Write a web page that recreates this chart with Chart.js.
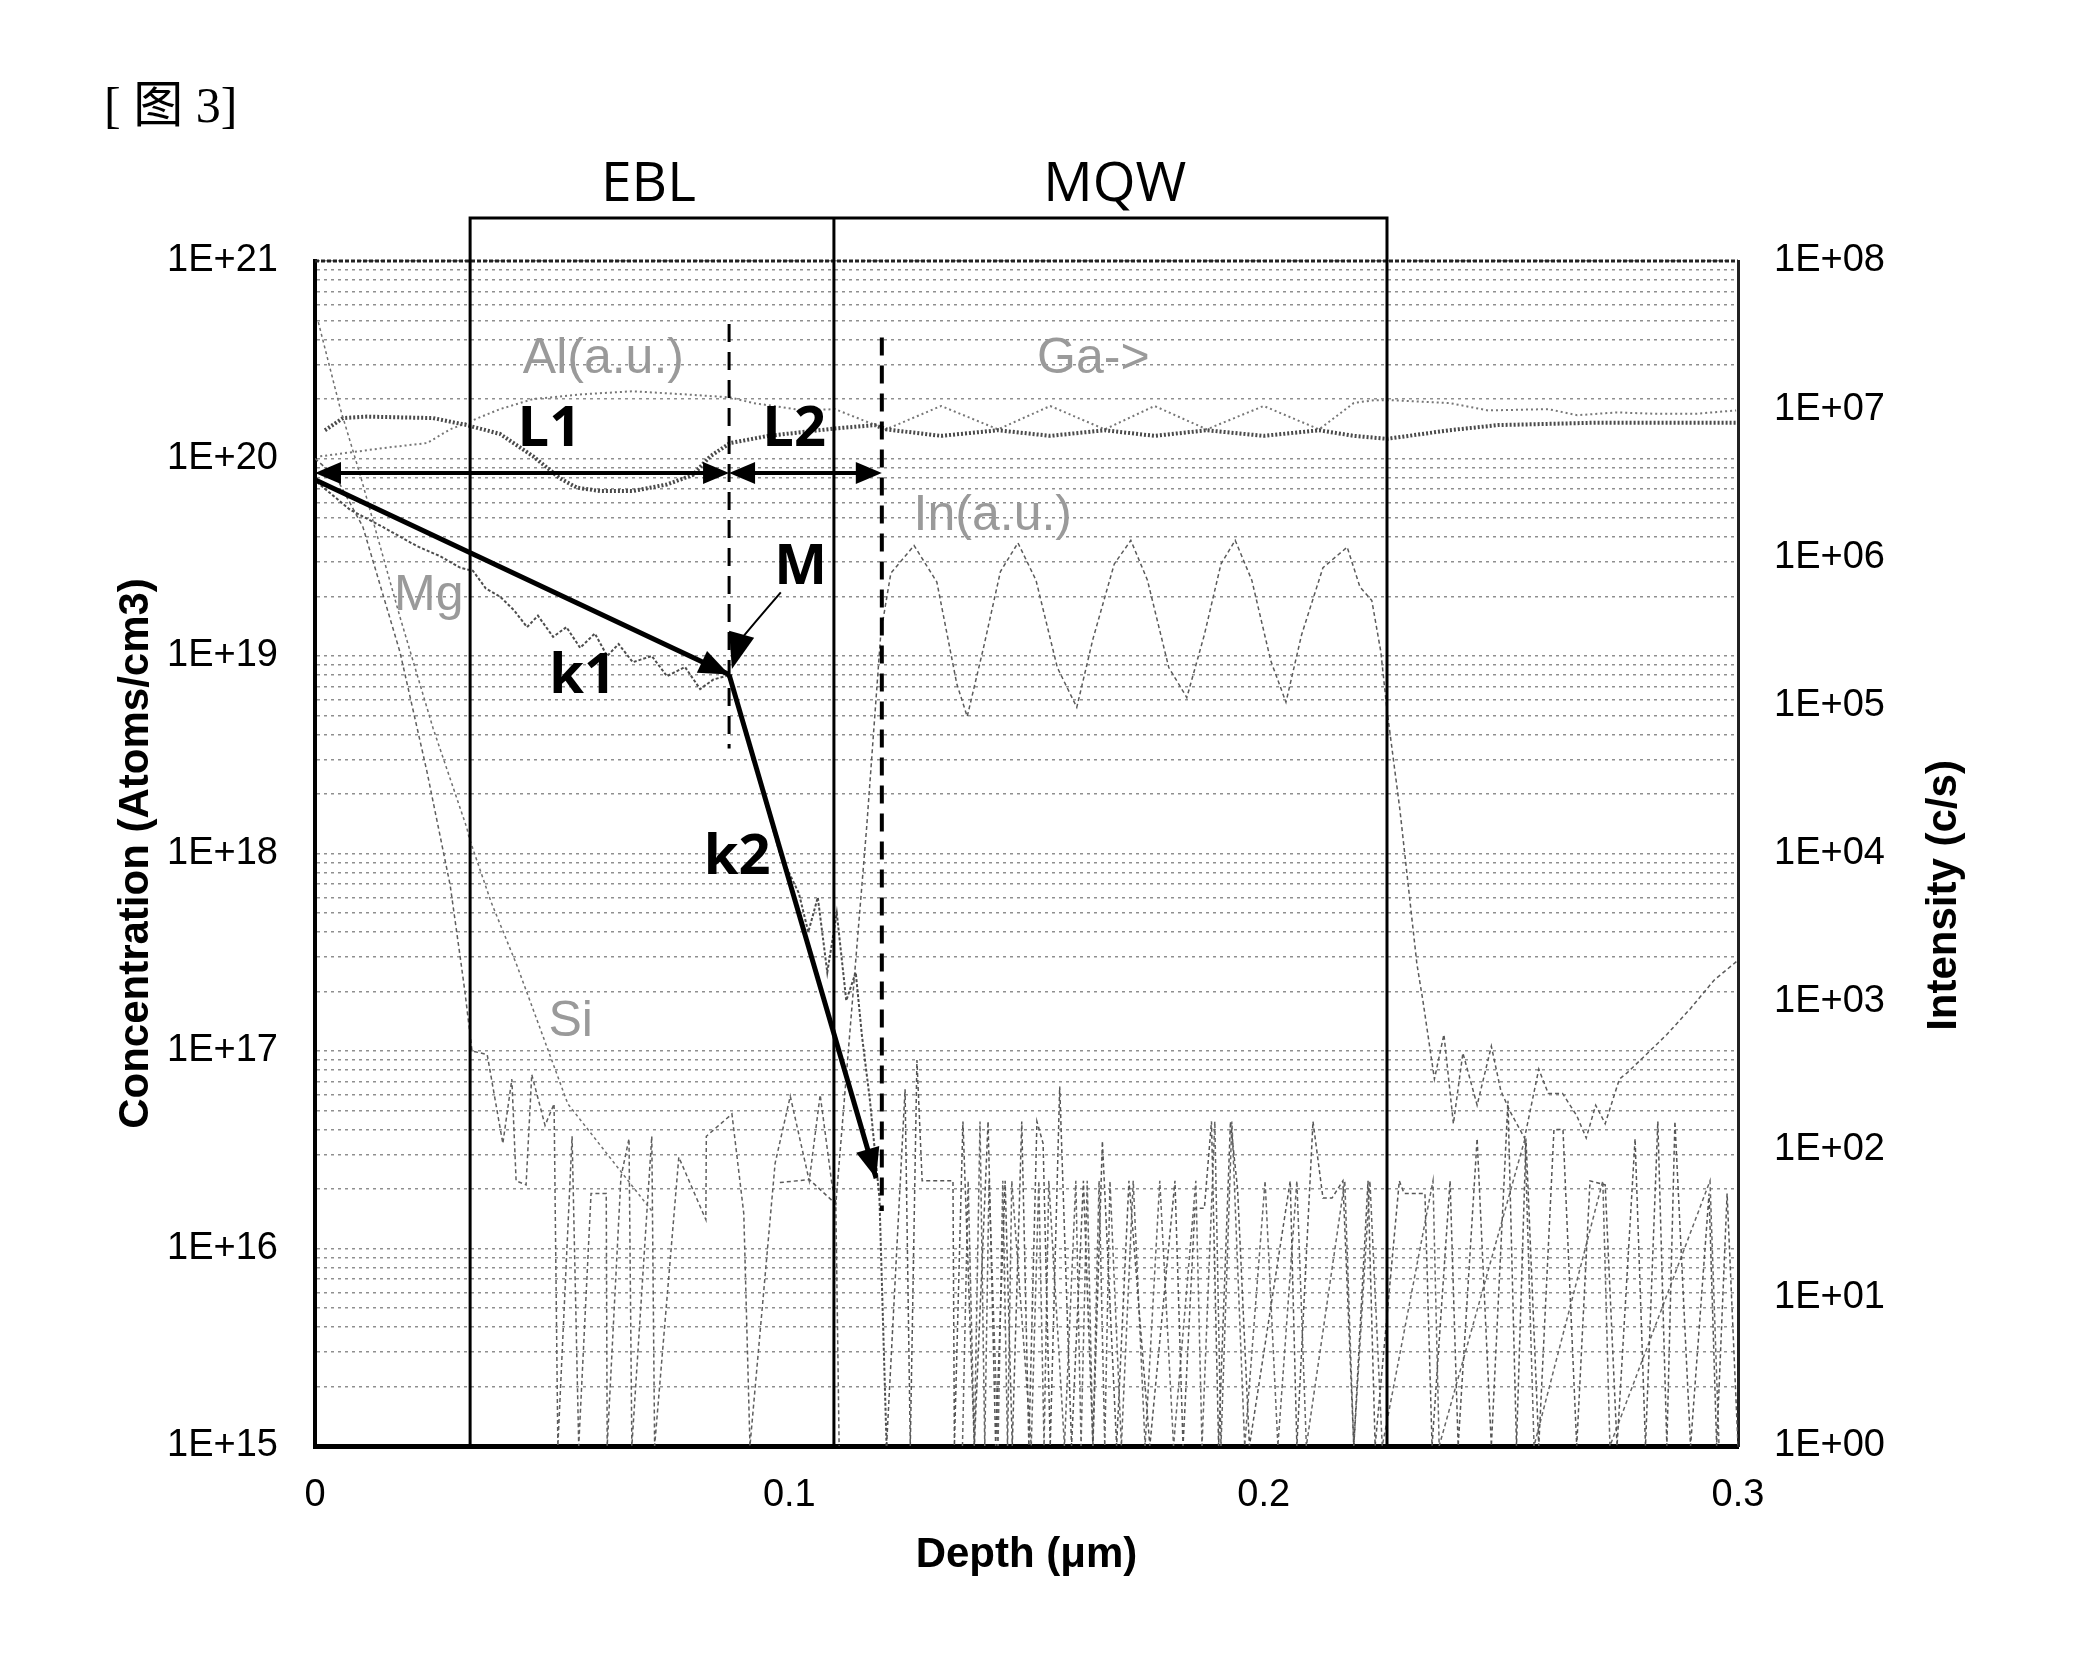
<!DOCTYPE html>
<html>
<head>
<meta charset="utf-8">
<script src="https://cdn.jsdelivr.net/npm/chart.js@4/dist/chart.umd.min.js"></script>
<style>
  html, body { margin: 0; padding: 0; background: #fff; }
  #wrap { position: relative; width: 2076px; height: 1668px; }
  #fig { position: absolute; left: 104px; top: 80px; font: 50px "Liberation Serif", "Noto Sans CJK SC", serif; color: #000; line-height: 1; }
  canvas { position: absolute; left: 0; top: 0; }
</style>
</head>
<body>
<div id="wrap">
  <canvas id="sims" width="2076" height="1668"></canvas>
  <div id="fig">[ 图 3]</div>
</div>
<script>
// SIMS depth profile, fig. 3 — concentration (left, log) and intensity (right, log) vs depth

// axis ticks
const depthTicks = [0, 0.1, 0.2, 0.3];
const depthTickLabels = ['0', '0.1', '0.2', '0.3'];
const concDecadeLabels = ['1E+15', '1E+16', '1E+17', '1E+18', '1E+19', '1E+20', '1E+21'];
const intDecadeLabels = ['1E+00', '1E+01', '1E+02', '1E+03', '1E+04', '1E+05', '1E+06', '1E+07', '1E+08'];

// Mg (atoms/cm3)
const mgDepth = [0.0004, 0.0074, 0.0143, 0.0215, 0.0264, 0.0306, 0.0333, 0.036, 0.039, 0.042, 0.0447, 0.047, 0.0502, 0.053, 0.0559, 0.059, 0.0616, 0.064, 0.067, 0.071, 0.0742, 0.078, 0.0812, 0.084, 0.0873, 0.09, 0.094, 0.098, 0.102, 0.104, 0.106, 0.108, 0.11, 0.112, 0.114, 0.1153, 0.117, 0.119, 0.1205];
const mgConc = [7.6e19, 5.5e19, 4.5e19, 3.6e19, 3.2e19, 2.8e19, 2.7e19, 2.2e19, 2.0e19, 1.7e19, 1.4e19, 1.6e19, 1.25e19, 1.4e19, 1.1e19, 1.3e19, 1.0e19, 1.15e19, 9.3e18, 1.0e19, 7.9e18, 8.8e18, 6.8e18, 7.6e18, 8.0e18, 5.0e18, 2.2e18, 1.0e18, 6.3e17, 4.0e17, 6.0e17, 2.5e17, 5.0e17, 1.8e17, 2.5e17, 1.2e17, 5.6e16, 1.8e16, 1e15];

// Si (atoms/cm3)
const siDepth = [0.0007, 0.0053, 0.0095, 0.0179, 0.0249, 0.032, 0.0325, 0.0371, 0.0426, 0.0453, 0.0533, 0.071];
const siConc = [4.9e20, 1.8e20, 8.3e19, 1.58e19, 4.3e18, 1.35e18, 1.2e18, 5.7e17, 2.7e17, 1.8e17, 5.4e16, 1.55e16];

// second surface trace, ends in detection-limit noise
const trDepth = [0.0, 0.0045, 0.0101, 0.0179, 0.0236, 0.0285, 0.0306, 0.0316, 0.0331, 0.0363, 0.0396, 0.0415, 0.0424, 0.0445, 0.0457, 0.0485, 0.0504, 0.0512, 0.0542, 0.0556, 0.0582, 0.0614, 0.0616, 0.0645, 0.0662, 0.0668, 0.071, 0.0716, 0.0767, 0.0824, 0.0825, 0.0879, 0.0904, 0.0917, 0.097, 0.1002, 0.1042, 0.1065, 0.109, 0.1098, 0.1105];
const trConc = [1.0e20, 8.0e19, 4.5e19, 1.05e19, 2.6e18, 6.9e17, 3.0e17, 2.0e17, 1.0e17, 9.6e16, 3.4e16, 7.2e16, 2.2e16, 2.1e16, 7.6e16, 4.2e16, 5.4e16, 1e15, 3.7e16, 1e15, 1.9e16, 1.9e16, 1e15, 2.3e16, 3.6e16, 1e15, 3.7e16, 1e15, 2.9e16, 1.4e16, 3.7e16, 4.8e16, 1.5e16, 1e15, 2.7e16, 5.9e16, 2.2e16, 6.0e16, 2.1e16, 1.7e16, 1e15];

// background noise in the MQW and below
const nzDepth = [0.1205, 0.1244, 0.1255, 0.1269, 0.128, 0.1345, 0.1348, 0.1366, 0.139, 0.1419, 0.1435, 0.1455, 0.147, 0.149, 0.1505, 0.1522, 0.1535, 0.155, 0.157, 0.1595, 0.162, 0.164, 0.166, 0.169, 0.1716, 0.176, 0.1813, 0.183, 0.1855, 0.1875, 0.189, 0.1905, 0.193, 0.1945, 0.197, 0.2056, 0.207, 0.2104, 0.2125, 0.2144, 0.2167, 0.219, 0.222, 0.2235, 0.2286, 0.2296, 0.234, 0.2355, 0.2393, 0.241, 0.245, 0.248, 0.2515, 0.2533, 0.2553, 0.258, 0.2612, 0.2631, 0.266, 0.2688, 0.272, 0.2745, 0.2783, 0.2805, 0.2831, 0.285, 0.2867, 0.29, 0.2939, 0.2955, 0.2977, 0.3];
const nzConc = [1e15, 6.4e16, 1e15, 9e16, 2.2e16, 2.2e16, 1e15, 4.4e16, 1e15, 4.4e16, 1e15, 2.2e16, 1e15, 4.4e16, 1e15, 4.4e16, 3.4e16, 1e15, 6.6e16, 1e15, 2.2e16, 1e15, 3.5e16, 1e15, 2.2e16, 1e15, 2.2e16, 1e15, 1.6e16, 1.6e16, 4.4e16, 1e15, 4.4e16, 2.0e16, 1e15, 2.2e16, 1e15, 4.4e16, 1.8e16, 1.8e16, 2.2e16, 1e15, 2.2e16, 1e15, 2.2e16, 1.9e16, 1.9e16, 1e15, 2.2e16, 1e15, 3.6e16, 1e15, 5.6e16, 1e15, 3.6e16, 1e15, 4.0e16, 4.0e16, 1e15, 2.2e16, 2.1e16, 1e15, 3.6e16, 1e15, 4.4e16, 1e15, 4.4e16, 1e15, 1.9e16, 1e15, 1.9e16, 1e15];
const nz2Depth = [0.1365, 0.1377, 0.139, 0.1402, 0.1412, 0.1421, 0.144, 0.145, 0.146, 0.1469, 0.151, 0.1526, 0.1537, 0.1547, 0.158, 0.1604, 0.1615, 0.1628, 0.164, 0.1653, 0.1665, 0.1676, 0.17, 0.1725, 0.175, 0.1781, 0.181, 0.1857, 0.187, 0.1897, 0.191, 0.1933, 0.196, 0.2003, 0.203, 0.207, 0.209, 0.2171, 0.219, 0.2224, 0.225, 0.2357, 0.237, 0.2551, 0.257, 0.2715, 0.273, 0.2941, 0.296];
const nz2Conc = [1e15, 2.2e16, 1e15, 4.4e16, 1e15, 2.2e16, 1e15, 2.2e16, 1e15, 2.2e16, 1e15, 2.2e16, 1e15, 2.2e16, 1e15, 2.2e16, 1e15, 2.2e16, 1e15, 2.2e16, 1e15, 2.2e16, 1e15, 2.2e16, 1e15, 2.2e16, 1e15, 2.2e16, 1e15, 4.4e16, 1e15, 4.4e16, 1e15, 2.2e16, 1e15, 2.2e16, 1e15, 2.2e16, 1e15, 2.2e16, 1e15, 2.2e16, 1e15, 3.6e16, 1e15, 2.2e16, 1e15, 2.2e16, 1e15];

// Ga, Al, In (c/s)
const gaDepth = [0.0021, 0.0059, 0.011, 0.0249, 0.032, 0.039, 0.046, 0.0517, 0.0552, 0.0601, 0.067, 0.0742, 0.0797, 0.0833, 0.0875, 0.0956, 0.1096, 0.118, 0.1204, 0.132, 0.144, 0.155, 0.1665, 0.177, 0.188, 0.2, 0.2117, 0.219, 0.226, 0.2391, 0.2494, 0.2703, 0.2996];
const gaCounts = [7.2e6, 8.7e6, 8.9e6, 8.7e6, 7.8e6, 6.8e6, 4.8e6, 3.4e6, 2.95e6, 2.8e6, 2.8e6, 3.1e6, 3.6e6, 4.8e6, 5.9e6, 6.6e6, 7.4e6, 7.8e6, 7.3e6, 6.6e6, 7.2e6, 6.6e6, 7.2e6, 6.6e6, 7.2e6, 6.6e6, 7.2e6, 6.6e6, 6.3e6, 7.2e6, 7.8e6, 8.1e6, 8.1e6];
const alDepth = [0.0011, 0.0074, 0.0152, 0.0236, 0.0285, 0.032, 0.039, 0.046, 0.0565, 0.067, 0.0776, 0.0875, 0.0923, 0.1031, 0.1096, 0.1204, 0.132, 0.144, 0.155, 0.1665, 0.177, 0.188, 0.2, 0.2117, 0.219, 0.2233, 0.2264, 0.2391, 0.2473, 0.26, 0.2661, 0.2745, 0.2827, 0.2911, 0.2996];
const alCounts = [4.8e6, 5.1e6, 5.5e6, 5.9e6, 7.3e6, 8.1e6, 1.0e7, 1.17e7, 1.26e7, 1.32e7, 1.26e7, 1.2e7, 1.1e7, 9.8e6, 1.0e7, 7.3e6, 1.05e7, 7.3e6, 1.05e7, 7.3e6, 1.05e7, 7.3e6, 1.05e7, 7.3e6, 1.1e7, 1.15e7, 1.15e7, 1.1e7, 9.8e6, 1.0e7, 9.1e6, 9.5e6, 9.3e6, 9.3e6, 9.8e6];
const inDepth = [0.098, 0.1042, 0.1098, 0.114, 0.1163, 0.1193, 0.1214, 0.1263, 0.1311, 0.1353, 0.1375, 0.141, 0.1445, 0.1482, 0.152, 0.1565, 0.1606, 0.164, 0.1685, 0.172, 0.1755, 0.18, 0.1838, 0.1875, 0.191, 0.194, 0.1975, 0.2015, 0.2047, 0.208, 0.2125, 0.2176, 0.2203, 0.2228, 0.2247, 0.226, 0.2287, 0.2323, 0.2336, 0.236, 0.238, 0.24, 0.242, 0.245, 0.248, 0.25, 0.252, 0.255, 0.258, 0.26, 0.263, 0.266, 0.268, 0.27, 0.272, 0.275, 0.2766, 0.28, 0.285, 0.29, 0.295, 0.3];
const inCounts = [60, 63, 43, 1.9e3, 1.5e4, 3.1e5, 7.8e5, 1.2e6, 6.8e5, 1.4e5, 8.4e4, 2.5e5, 8e5, 1.25e6, 7e5, 1.8e5, 9.7e4, 2.8e5, 9e5, 1.3e6, 7e5, 1.8e5, 1.13e5, 3e5, 9e5, 1.3e6, 7e5, 2e5, 1.05e5, 3e5, 8.5e5, 1.17e6, 6.3e5, 5.1e5, 2.3e5, 9.3e4, 2e4, 1.8e3, 1e3, 300, 600, 150, 450, 200, 500, 250, 180, 120, 350, 240, 240, 170, 120, 200, 150, 300, 330, 420, 600, 900, 1400, 1900];

// annotations (depth in um, concentration on the left axis)
const eblRange = [0.0327, 0.1094];
const mqwRange = [0.1094, 0.226];
const boxTopConc = 1.65e21;
const markM = 0.0873;          // kink of the Mg profile
const markEnd = 0.1195;         // end of L2
const arrowConc = 8.45e19;
const k1Line = [[0, 7.8e19], [0.0873, 8.05e18]];
const k2Line = [[0.0873, 8.05e18], [0.1183, 2.27e16]];

const pts = (xs, ys) => xs.map((v, i) => ({ x: v, y: ys[i] }));

function sciLabel(v, labels, e0) {
  const e = Math.round(Math.log10(v));
  if (Math.abs(v - Math.pow(10, e)) > 1e-6 * v) return '';
  return labels[e - e0] || '';
}

function logTicks(e0, e1) {
  const out = [];
  for (let e = e0; e <= e1; e++) {
    for (let m = 1; m <= 9; m++) {
      if (e === e1 && m > 1) break;
      out.push({ value: m * Math.pow(10, e) });
    }
  }
  return out;
}

function head(ctx, x0, y0, x1, y1, len, half) {
  const a = Math.atan2(y1 - y0, x1 - x0);
  const c = Math.cos(a), s = Math.sin(a);
  ctx.beginPath();
  ctx.moveTo(x1, y1);
  ctx.lineTo(x1 - len * c + half * s, y1 - len * s - half * c);
  ctx.lineTo(x1 - len * c - half * s, y1 - len * s + half * c);
  ctx.closePath();
  ctx.fill();
}

// box, markers, arrows and the in-plot labels
const overlay = {
  id: 'overlay',
  afterDatasetsDraw(chart) {
    const { ctx, chartArea: ca, scales: { x, y, y2 } } = chart;
    const px = (v) => x.getPixelForValue(v);
    const py = (v) => y.getPixelForValue(v);
    ctx.save();

    // top edge of the plot
    ctx.strokeStyle = '#222';
    ctx.lineWidth = 3;
    ctx.setLineDash([4, 2]);
    ctx.beginPath();
    ctx.moveTo(ca.left, ca.top);
    ctx.lineTo(ca.right, ca.top);
    ctx.stroke();
    ctx.setLineDash([]);

    // EBL / MQW boxes
    const top = py(boxTopConc);
    ctx.strokeStyle = '#000';
    ctx.lineWidth = 3;
    ctx.beginPath();
    ctx.moveTo(px(eblRange[0]), ca.bottom);
    ctx.lineTo(px(eblRange[0]), top);
    ctx.lineTo(px(mqwRange[1]), top);
    ctx.lineTo(px(mqwRange[1]), ca.bottom);
    ctx.moveTo(px(eblRange[1]), top);
    ctx.lineTo(px(eblRange[1]), ca.bottom);
    ctx.stroke();

    // dashed markers
    ctx.setLineDash([18, 10]);
    ctx.lineWidth = 3;
    ctx.beginPath();
    ctx.moveTo(px(markM), py(4.8e20));
    ctx.lineTo(px(markM), py(3.4e18));
    ctx.stroke();
    ctx.lineWidth = 4;
    ctx.beginPath();
    ctx.moveTo(px(markEnd), py(4.1e20));
    ctx.lineTo(px(markEnd), py(1.55e16));
    ctx.stroke();
    ctx.setLineDash([]);

    // L1 / L2 double arrows
    ctx.fillStyle = '#000';
    ctx.lineWidth = 4;
    const ay = py(arrowConc);
    const spans = [[0, markM], [markM, markEnd]];
    spans.forEach(([a, b]) => {
      const xa = px(a), xb = px(b);
      ctx.beginPath();
      ctx.moveTo(xa + 10, ay);
      ctx.lineTo(xb - 10, ay);
      ctx.stroke();
      head(ctx, xb, ay, xa, ay, 26, 11);
      head(ctx, xa, ay, xb, ay, 26, 11);
    });

    // k1 and k2 slopes
    ctx.lineWidth = 5;
    [k1Line, k2Line].forEach(([p0, p1]) => {
      const x0 = px(p0[0]), y0 = py(p0[1]), x1 = px(p1[0]), y1 = py(p1[1]);
      ctx.beginPath();
      ctx.moveTo(x0, y0);
      ctx.lineTo(x1, y1);
      ctx.stroke();
      head(ctx, x0, y0, x1, y1, 30, 12);
    });

    // M pointer
    const mx0 = px(0.0982), my0 = py(2.1e19), mx1 = px(0.0879), my1 = py(8.6e18);
    ctx.lineWidth = 2;
    ctx.beginPath();
    ctx.moveTo(mx0, my0);
    ctx.quadraticCurveTo(mx0 - 26, my0 + 30, mx1 + 6, my1 - 26);
    ctx.stroke();
    head(ctx, mx1 + 14, my1 - 50, mx1, my1, 36, 13);

    // labels
    ctx.textAlign = 'center';
    ctx.textBaseline = 'middle';
    ctx.fillStyle = '#000';
    ctx.font = '55px "Open Sans", "Liberation Sans", sans-serif';
    ctx.fillText('EBL', px(0.0703), py(2.43e21));
    ctx.fillText('MQW', px(0.1686), py(2.43e21));

    ctx.font = 'bold 56px "Open Sans", "Liberation Sans", sans-serif';
    ctx.fillText('L1', px(0.0494), py(1.39e20));
    ctx.fillText('L2', px(0.101), py(1.39e20));
    ctx.fillText('M', px(0.1024), py(2.8e19));
    ctx.fillText('k1', px(0.0564), py(7.8e18));
    ctx.fillText('k2', px(0.089), py(9.5e17));

    ctx.fillStyle = '#9a9a9a';
    ctx.font = '50px "Liberation Sans", Arial, sans-serif';
    ctx.fillText('Al(a.u.)', px(0.0608), py(3.2e20));
    ctx.fillText('Ga->', px(0.1641), py(3.2e20));
    ctx.fillText('In(a.u.)', px(0.1429), py(5.1e19));
    ctx.fillText('Mg', px(0.024), py(2.0e19));
    ctx.fillText('Si', px(0.0539), py(1.4e17));

    // right axis title, read bottom-to-top like the left one
    ctx.fillStyle = '#000';
    ctx.font = 'bold 42px "Liberation Sans", Arial, sans-serif';
    ctx.translate(y2.right - 132, (ca.top + ca.bottom) / 2 + 42);
    ctx.rotate(-Math.PI / 2);
    ctx.fillText('Intensity (c/s)', 0, 0);
    ctx.restore();
  }
};

const tickFont = { family: '"Liberation Sans", Arial, sans-serif', size: 38 };
const titleFont = { family: '"Liberation Sans", Arial, sans-serif', size: 42, weight: 'bold' };
const gridDash = [3, 4];

const line = (label, xs, ys, axis, color, width, dash) => ({
  label,
  data: pts(xs, ys),
  yAxisID: axis,
  borderColor: color,
  borderWidth: width,
  borderDash: dash,
  pointRadius: 0,
  tension: 0,
  fill: false,
});

new Chart(document.getElementById('sims').getContext('2d'), {
  type: 'line',
  data: {
    datasets: [
      line('Mg', mgDepth, mgConc, 'y', '#4d4d4d', 2, [3, 2]),
      line('Si', siDepth, siConc, 'y', '#707070', 1.5, [3, 3]),
      line('trace', trDepth, trConc, 'y', '#5e5e5e', 1.5, [4, 3]),
      line('noise', nzDepth, nzConc, 'y', '#555', 1.5, [4, 3]),
      line('noise 2', nz2Depth, nz2Conc, 'y', '#666', 1.5, [4, 3]),
      line('Ga', gaDepth, gaCounts, 'y2', '#4a4a4a', 4, [2, 2]),
      line('Al', alDepth, alCounts, 'y2', '#777', 2, [2, 3]),
      line('In', inDepth, inCounts, 'y2', '#5a5a5a', 1.5, [4, 3]),
    ],
  },
  options: {
    responsive: false,
    animation: false,
    devicePixelRatio: 1,
    layout: { padding: { top: 261, left: 0, right: 0, bottom: 0 } },
    plugins: { legend: { display: false }, tooltip: { enabled: false }, title: { display: false } },
    scales: {
      x: {
        type: 'linear',
        min: 0,
        max: 0.3,
        afterBuildTicks: (s) => { s.ticks = depthTicks.map((v) => ({ value: v })); },
        afterFit: (s) => { s.height = 222; },
        grid: { display: false, drawTicks: false },
        border: { display: true, color: '#000', width: 5 },
        ticks: {
          color: '#000',
          font: tickFont,
          padding: 27,
          maxRotation: 0,
          autoSkip: false,
          callback: (v, i) => depthTickLabels[i],
        },
        title: { display: true, text: 'Depth (μm)', color: '#000', font: titleFont, padding: { top: 0, bottom: 87 } },
      },
      y: {
        type: 'logarithmic',
        position: 'left',
        min: 1e15,
        max: 1e21,
        afterBuildTicks: (s) => { s.ticks = logTicks(15, 21); },
        afterFit: (s) => { s.width = 315; },
        grid: { color: '#8f8f8f', lineWidth: 1.5, drawTicks: false },
        border: { display: true, color: '#000', width: 4, dash: gridDash },
        ticks: {
          color: '#000',
          font: tickFont,
          padding: 37,
          autoSkip: false,
          callback: (v) => sciLabel(v, concDecadeLabels, 15),
        },
        title: { display: true, text: 'Concentration (Atoms/cm3)', color: '#000', font: titleFont, padding: { top: 111, bottom: 0 } },
      },
      y2: {
        type: 'logarithmic',
        position: 'right',
        min: 1,
        max: 1e8,
        afterBuildTicks: (s) => { s.ticks = logTicks(0, 8); },
        afterFit: (s) => { s.width = 338; },
        grid: { display: false, drawTicks: false },
        border: { display: true, color: '#222', width: 3, dash: [4, 2] },
        ticks: {
          color: '#000',
          font: tickFont,
          padding: 36,
          autoSkip: false,
          callback: (v) => sciLabel(v, intDecadeLabels, 0),
        },
        title: { display: false },
      },
    },
  },
  plugins: [overlay],
});
</script>
</body>
</html>
